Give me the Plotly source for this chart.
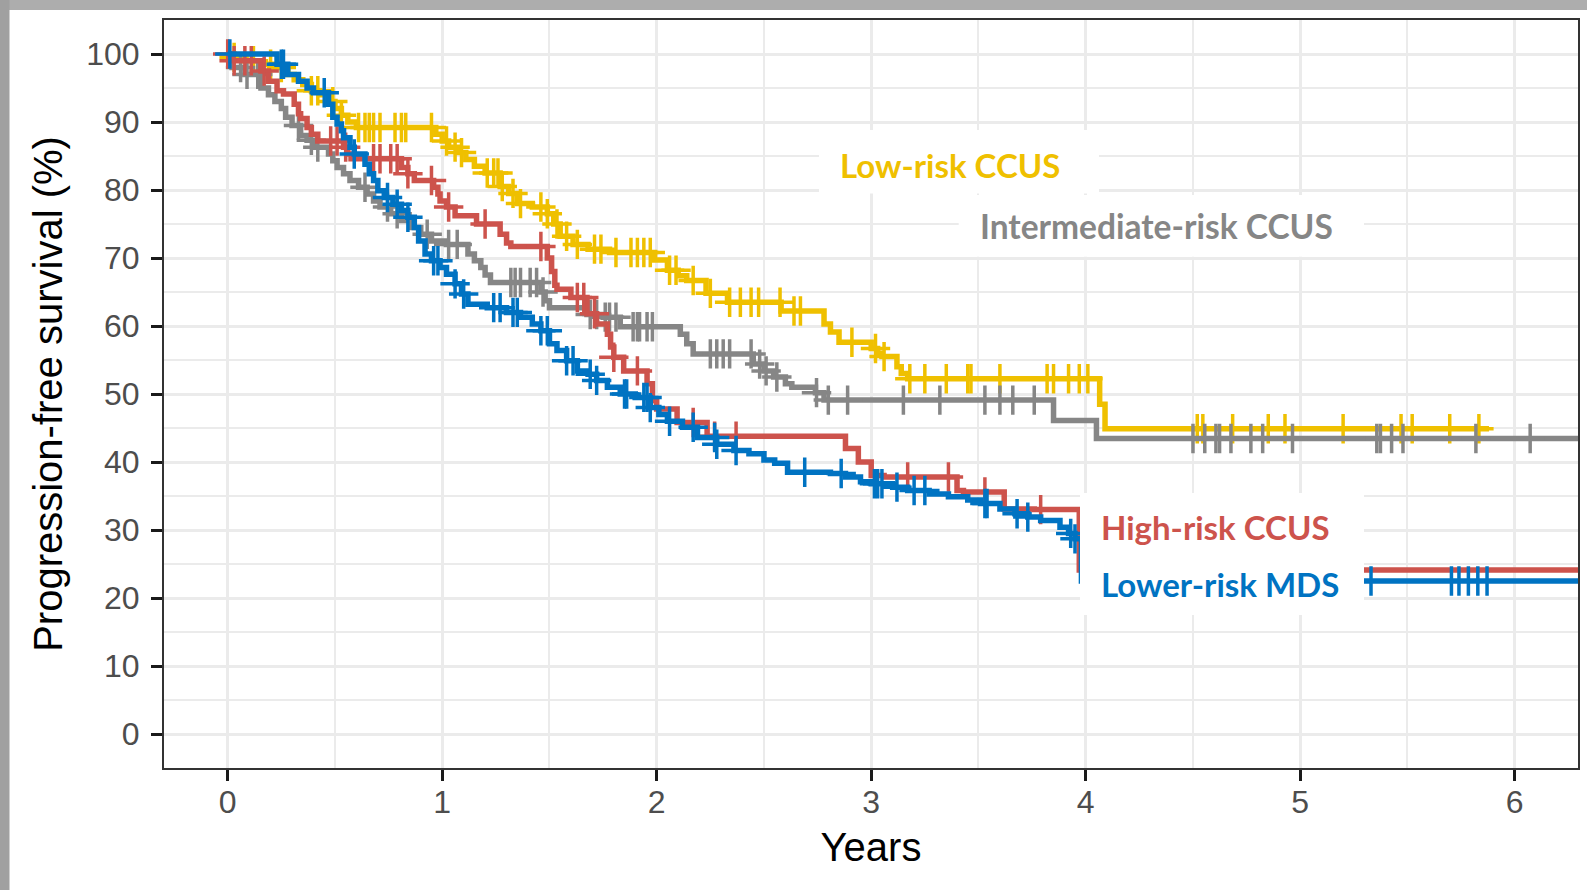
import plotly.graph_objects as go

# ---------------- data ----------------
low_t = [0, 0.03, 0.08, 0.15, 0.22, 0.28, 0.31, 0.35, 0.39, 0.43, 0.47, 0.50, 0.53, 0.56, 0.60,
         0.97, 1.00, 1.03, 1.07, 1.11, 1.15, 1.20, 1.27, 1.31, 1.35, 1.42, 1.49, 1.52, 1.55, 1.61,
         1.68, 1.78, 1.99, 2.05, 2.10, 2.14, 2.23, 2.33, 2.58, 2.78, 2.81, 2.85, 3.00, 3.03, 3.05,
         3.12, 3.14, 3.17, 4.065, 4.09]
low_s = [100, 99.5, 99, 98.5, 98, 97, 96.2, 95.5, 94.6, 94, 93, 92, 91, 90, 89.2,
         88.2, 87.2, 86.3, 85.5, 84.5, 83.5, 82.5, 80.5, 79.5, 78, 77.5, 76.5, 75, 73.2, 72,
         71.3, 70.8, 69.7, 68.2, 67.4, 66.7, 64.8, 63.5, 62.2, 60.3, 59.1, 57.6, 56.7, 56, 55.5,
         54, 53, 52.25, 48.5, 44.9]
low_end = 5.88
low_cens = [0.03, 0.12, 0.2, 0.25, 0.39, 0.42, 0.49, 0.53, 0.61, 0.64, 0.66, 0.68, 0.71, 0.78,
            0.81, 0.83, 0.95, 1.02, 1.06, 1.09, 1.21, 1.24, 1.26, 1.28, 1.33, 1.365, 1.46, 1.49,
            1.535, 1.58, 1.63, 1.71, 1.74, 1.81, 1.88, 1.91, 1.94, 1.97, 2.06, 2.09, 2.17, 2.25,
            2.34, 2.39, 2.44, 2.475, 2.575, 2.64, 2.67, 2.91, 3.02, 3.06, 3.18, 3.25, 3.35, 3.45,
            3.465, 3.60, 3.82, 3.85, 3.92, 3.97, 4.01, 4.52, 4.546, 4.685, 4.851, 4.929, 5.2,
            5.47, 5.522, 5.697, 5.833]

int_t = [0, 0.02, 0.08, 0.155, 0.19, 0.22, 0.25, 0.27, 0.30, 0.34, 0.37, 0.40, 0.47, 0.49, 0.51,
         0.54, 0.57, 0.61, 0.65, 0.68, 0.71, 0.76, 0.81, 0.85, 0.90, 0.95, 1.02, 1.12, 1.15, 1.18,
         1.20, 1.225, 1.46, 1.48, 1.50, 1.675, 1.75, 1.83, 2.11, 2.14, 2.17, 2.45, 2.50, 2.545,
         2.60, 2.63, 2.74, 2.78, 3.85, 4.05]
int_s = [100, 98, 97, 95, 94, 93, 92, 90.7, 89.5, 88, 87.3, 86.3, 85.3, 84.3, 83.3,
         82.4, 81.4, 80.4, 79.4, 78.4, 77.5, 76.5, 75.5, 74.5, 73.5, 72.5, 72, 70.6, 69.6, 68.6,
         67.5, 66.4, 65, 63.7, 62.7, 61.7, 61.3, 59.9, 58.8, 57.4, 55.9, 54.4, 53.4, 52.5,
         51.5, 51, 50.2, 49.1, 46.1, 43.45]
int_end = 6.4
int_cens = [0.06, 0.09, 0.14, 0.33, 0.39, 0.42, 0.64, 0.745, 0.79, 0.93, 1.03, 1.07, 1.32, 1.34,
            1.365, 1.41, 1.44, 1.47, 1.69, 1.72, 1.76, 1.78, 1.81, 1.89, 1.91, 1.92, 1.955, 1.98,
            2.25, 2.28, 2.31, 2.34, 2.44, 2.48, 2.51, 2.56, 2.745, 2.80, 2.89, 3.15, 3.32, 3.53,
            3.6, 3.66, 3.76, 4.50, 4.555, 4.607, 4.624, 4.677, 4.77, 4.825, 4.964, 5.357, 5.374,
            5.426, 5.479, 5.819, 6.072]

high_t = [0, 0.016, 0.155, 0.19, 0.23, 0.26, 0.31, 0.33, 0.34, 0.37, 0.39, 0.42, 0.54, 0.56, 0.575,
          0.81, 0.84, 0.87, 0.96, 0.98, 0.99, 1.02, 1.06, 1.16, 1.27, 1.30, 1.32, 1.49, 1.51, 1.525,
          1.535, 1.60, 1.675, 1.72, 1.77, 1.785, 1.80, 1.846, 1.955, 1.98, 2.0, 2.095, 2.235, 2.88,
          2.94, 3.0, 3.06, 3.40, 3.43, 3.62, 3.76, 3.97]
high_s = [100, 99, 97.5, 96, 94.6, 94.1, 92.6, 91.2, 90.5, 89.2, 88.2, 87.2, 86.3, 85.3, 84.6,
          83.3, 82.4, 81.4, 80.4, 79.4, 78.4, 77.5, 76.2, 75, 73.5, 72.2, 71.7, 70, 68, 66,
          65.4, 64.2, 61.8, 60.3, 58.8, 56.9, 55.4, 53.4, 51.5, 49, 47.8, 45.8, 43.8, 42,
          40, 38, 37.8, 35.8, 35.6, 33.1, 33, 24.1]
high_end = 6.4
high_cens = [0.0, 0.03, 0.08, 0.11, 0.17, 0.48, 0.51, 0.55, 0.68, 0.71, 0.76, 0.79, 0.84, 0.95,
             1.03, 1.2, 1.46, 1.63, 1.66, 1.71, 1.80, 1.91, 2.17, 2.27, 2.37, 3.17, 3.36, 3.53, 3.79]

mds_t = [0, 0.23, 0.28, 0.33, 0.37, 0.40, 0.47, 0.49, 0.51, 0.53, 0.54, 0.57, 0.59, 0.64, 0.66,
         0.68, 0.70, 0.73, 0.77, 0.81, 0.84, 0.87, 0.89, 0.92, 0.95, 0.99, 1.02, 1.06, 1.09, 1.12,
         1.21, 1.30, 1.365, 1.42, 1.46, 1.50, 1.535, 1.58, 1.63, 1.68, 1.72, 1.77, 1.83, 1.90, 1.97,
         2.01, 2.05, 2.12, 2.19, 2.28, 2.36, 2.43, 2.50, 2.55, 2.61, 2.81, 2.88, 2.95, 3.0, 3.10,
         3.17, 3.27, 3.36, 3.45, 3.51, 3.60, 3.67, 3.73, 3.79, 3.88, 3.92, 3.95, 3.98]
mds_s = [100, 98.5, 97, 96, 95, 94.3, 92.6, 90.7, 89.7, 88.7, 87.7, 86.3, 85.3, 83.8, 82.4,
         81.4, 79.9, 78.9, 77.9, 77, 76, 74.5, 72.5, 70.6, 69.6, 68.6, 67.6, 66.2, 64.7, 63.2,
         62.7, 62, 61.3, 60.3, 59.3, 57.4, 56.4, 54.9, 53.4, 52.9, 52, 51, 50, 49.5, 48,
         47, 46, 45.1, 43.6, 42.6, 41.7, 41.2, 40.3, 39.8, 38.5, 38.3, 37.8, 37.1, 36.8, 36.3,
         35.8, 35.3, 34.9, 34.4, 33.9, 33.1, 32.4, 31.9, 31.4, 30.4, 29.5, 28.7, 22.5]
mds_end = 6.4
mds_cens = [0.01, 0.25, 0.26, 0.45, 0.59, 0.745, 0.79, 0.84, 0.96, 0.98, 1.06, 1.10, 1.24, 1.27,
            1.33, 1.35, 1.46, 1.49, 1.58, 1.61, 1.69, 1.72, 1.85, 1.86, 1.94, 1.955, 1.97, 2.06,
            2.17, 2.27, 2.28, 2.37, 2.69, 2.86, 3.015, 3.03, 3.05, 3.12, 3.20, 3.25, 3.53, 3.54,
            3.68, 3.73, 3.93, 3.95, 5.33, 5.705, 5.74, 5.784, 5.828, 5.871]

labels = ["Low-risk CCUS", "Intermediate-risk CCUS", "High-risk CCUS", "Lower-risk MDS"]
colors = ["#EFC000", "#868686", "#CD534C", "#0073C2"]
x_ticks = [0, 1, 2, 3, 4, 5, 6]
y_ticks = [0, 10, 20, 30, 40, 50, 60, 70, 80, 90, 100]

series = [
    (low_t, low_s, low_end, low_cens),
    (int_t, int_s, int_end, int_cens),
    (high_t, high_s, high_end, high_cens),
    (mds_t, mds_s, mds_end, mds_cens),
]


def surv_at(ts, ss, t):
    val = ss[0]
    for ti, si in zip(ts, ss):
        if ti <= t:
            val = si
    return val


fig = go.Figure()
for (ts, ss, end, cens), name, col in zip(series, labels, colors):
    fig.add_trace(go.Scatter(
        x=list(ts) + [end], y=list(ss) + [ss[-1]], mode="lines",
        line=dict(color=col, width=5.5, shape="hv"), name=name, showlegend=False,
        hoverinfo="skip"))
    fig.add_trace(go.Scatter(
        x=cens, y=[surv_at(ts, ss, c) for c in cens], mode="markers",
        marker=dict(symbol="cross-thin", size=21, color=col,
                    line=dict(color=col, width=3.5)),
        name=name, showlegend=False, hoverinfo="skip"))

# ---------------- layout ----------------
W, H = 1587, 890
L, R, T, B = 164, 9, 20, 122
pw, ph = W - L - R, H - T - B
XR = [-0.297, 6.295]
YR = [-5, 105]


def dx(px):  # pixel -> data x
    return XR[0] + (px - L) / pw * (XR[1] - XR[0])


def dy(py):  # pixel -> data y
    return YR[1] - (py - T) / ph * (YR[1] - YR[0])


def paper_x(px):
    return (px - L) / pw


def paper_y(py):
    return (H - B - py) / ph


shapes = []
# white label boxes (above the curves)
for (x0, x1, y0, y1) in [(819, 1099, 130, 193.5), (958.7, 1364, 195, 256.7), (1080, 1364, 493, 615)]:
    shapes.append(dict(type="rect", xref="x", yref="y", x0=dx(x0), x1=dx(x1), y0=dy(y1), y1=dy(y0),
                       fillcolor="white", line=dict(width=0), layer="above"))
# grey frame of the screenshot
shapes.append(dict(type="rect", xref="paper", yref="paper", x0=paper_x(0), x1=paper_x(W),
                   y0=paper_y(10), y1=paper_y(0), fillcolor="#ADADAD", line=dict(width=0), layer="above"))
shapes.append(dict(type="rect", xref="paper", yref="paper", x0=paper_x(0), x1=paper_x(9.5),
                   y0=paper_y(H), y1=paper_y(0), fillcolor="#A0A0A0", line=dict(width=0), layer="above"))

lab_font = "Lato, Noto Sans, sans-serif"
annotations = [
    dict(x=dx(838), y=dy(164.5), text="<b>Low-risk CCUS</b>", font=dict(color=colors[0], size=33, family=lab_font)),
    dict(x=dx(978), y=dy(226), text="<b>Intermediate-risk CCUS</b>", font=dict(color=colors[1], size=33.5, family=lab_font)),
    dict(x=dx(1099), y=dy(527), text="<b>High-risk CCUS</b>", font=dict(color=colors[2], size=33, family=lab_font)),
    dict(x=dx(1099), y=dy(584), text="<b>Lower-risk MDS</b>", font=dict(color=colors[3], size=33, family=lab_font)),
]
for a in annotations:
    a.update(xref="x", yref="y", xanchor="left", yanchor="middle", showarrow=False)

axis_common = dict(
    showgrid=True, gridcolor="#EBEBEB", gridwidth=3,
    zeroline=False, showline=True, linecolor="#333333", linewidth=2, mirror=True,
    ticks="outside", ticklen=11, tickwidth=3, tickcolor="#1A1A1A",
    tickfont=dict(family="Liberation Sans, Arial, sans-serif", size=32, color="#4D4D4D"),
)

fig.update_layout(
    width=W, height=H,
    margin=dict(l=L, r=R, t=T, b=B, autoexpand=False),
    paper_bgcolor="white", plot_bgcolor="white",
    shapes=shapes, annotations=annotations,
    xaxis=dict(range=XR, tickvals=x_ticks, ticktext=[str(v) for v in x_ticks], ticklabelstandoff=-6,
               minor=dict(tickvals=[0.5, 1.5, 2.5, 3.5, 4.5, 5.5], showgrid=True, gridcolor="#EBEBEB", gridwidth=1.7, ticks=""),
               title=dict(text="Years", font=dict(family="Liberation Sans, Arial, sans-serif", size=40, color="black"), standoff=14),
               **axis_common),
    yaxis=dict(range=YR, tickvals=y_ticks, ticktext=[str(v) for v in y_ticks], ticklabelstandoff=5,
               minor=dict(tickvals=[5, 15, 25, 35, 45, 55, 65, 75, 85, 95], showgrid=True, gridcolor="#EBEBEB", gridwidth=1.7, ticks=""),
               title=dict(text="Progression-free survival (%)", font=dict(family="Liberation Sans, Arial, sans-serif", size=40, color="black"), standoff=11),
               **axis_common),
)

fig.write_html("out.html", config={"displayModeBar": False},
               post_script="document.body.style.margin='0';document.body.style.overflow='hidden';")
